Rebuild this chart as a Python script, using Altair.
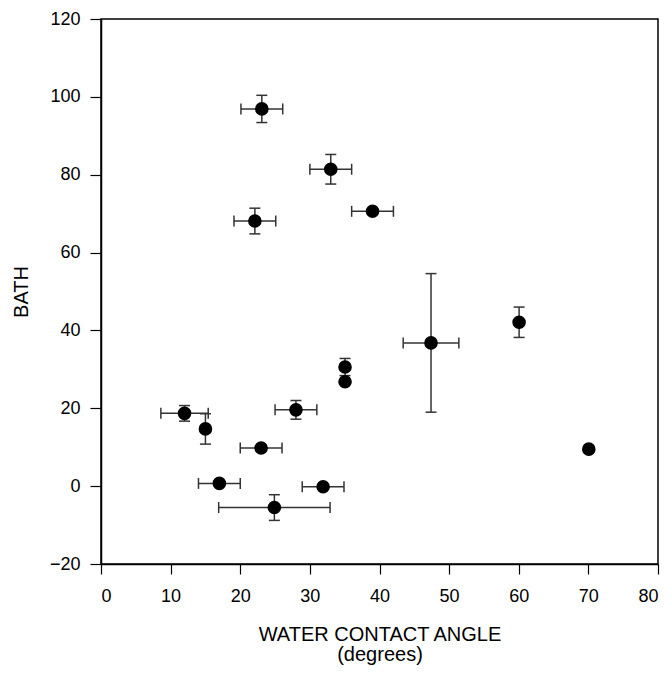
import altair as alt
import pandas as pd

# values
wca = [23.1, 33.0, 39.0, 22.1, 47.4, 35.05, 35.05, 28.0, 12.0, 15.0, 23.0, 17.0, 31.9, 24.9, 60.05, 70.06]
bath = [96.9, 81.4, 70.6, 68.1, 36.8, 30.6, 26.8, 19.6, 18.7, 14.7, 9.8, 0.7, -0.15, -5.5, 42.1, 9.5]
wca_err = [3, 3, 3, 3, 4, 0, 0, 3, 3.4, 0, 3, 3, 3, 8, 0, 0]
bath_err = [3.5, 3.8, 0, 3.3, 17.8, 2.2, 0, 2.4, 2.0, 3.9, 0, 0, 0, 3.3, 3.9, 0]

x_ticks = [0, 10, 20, 30, 40, 50, 60, 70, 80]
y_ticks = [-20, 0, 20, 40, 60, 80, 100, 120]

df = pd.DataFrame({"wca": wca, "bath": bath, "xe": wca_err, "ye": bath_err})
df["xlo"] = df["wca"] - df["xe"]
df["xhi"] = df["wca"] + df["xe"]
df["ylo"] = df["bath"] - df["ye"]
df["yhi"] = df["bath"] + df["ye"]
dx = df[df["xe"] > 0]
dy = df[df["ye"] > 0]

xcaps = pd.DataFrame({"x": list(dx["xlo"]) + list(dx["xhi"]), "y": list(dx["bath"]) * 2})
ycaps = pd.DataFrame({"x": list(dy["wca"]) * 2, "y": list(dy["ylo"]) + list(dy["yhi"])})

xs = alt.Scale(domain=[0, 80], nice=False, zero=False)
ys = alt.Scale(domain=[-20, 120], nice=False, zero=False)
bar_color = "#333333"

xbars = alt.Chart(dx).mark_rule(color=bar_color, strokeWidth=1.5).encode(
    x=alt.X("xlo:Q", scale=xs), x2="xhi:Q", y=alt.Y("bath:Q", scale=ys)
)
ybars = alt.Chart(dy).mark_rule(color=bar_color, strokeWidth=1.5).encode(
    x=alt.X("wca:Q", scale=xs), y=alt.Y("ylo:Q", scale=ys), y2="yhi:Q"
)
xcap = alt.Chart(xcaps).mark_tick(orient="vertical", size=11, thickness=1.5, color=bar_color, opacity=1).encode(
    x=alt.X("x:Q", scale=xs), y=alt.Y("y:Q", scale=ys)
)
ycap = alt.Chart(ycaps).mark_tick(orient="horizontal", size=11, thickness=1.5, color=bar_color, opacity=1).encode(
    x=alt.X("x:Q", scale=xs), y=alt.Y("y:Q", scale=ys)
)
points = alt.Chart(df).mark_circle(size=185, color="black", opacity=1).encode(
    x=alt.X("wca:Q", scale=xs, title=["WATER CONTACT ANGLE", "(degrees)"],
            axis=alt.Axis(values=x_ticks, tickSize=10, labelPadding=13, titlePadding=19,
                          titleLineHeight=20)),
    y=alt.Y("bath:Q", scale=ys, title="BATH",
            axis=alt.Axis(values=y_ticks, tickSize=11, labelPadding=10, titlePadding=18)),
)

chart = (
    alt.layer(xbars, ybars, xcap, ycap, points)
    .properties(
        width=557, height=545,
        background="white",
        autosize=alt.AutoSizeParams(type="none"),
        padding={"left": 93, "top": 11, "right": 6, "bottom": 105},
    )
    .configure_view(stroke="black", strokeWidth=1.5)
    .configure_axis(
        grid=False, domainColor="black", domainWidth=1.5, tickColor="black", tickWidth=1.2,
        labelFont="Liberation Sans", labelFontSize=18, labelColor="black",
        titleFont="Liberation Sans", titleFontSize=20, titleFontWeight="normal", titleColor="black",
    )
)

chart.save("out.html", embed_options={"renderer": "svg", "actions": False})
